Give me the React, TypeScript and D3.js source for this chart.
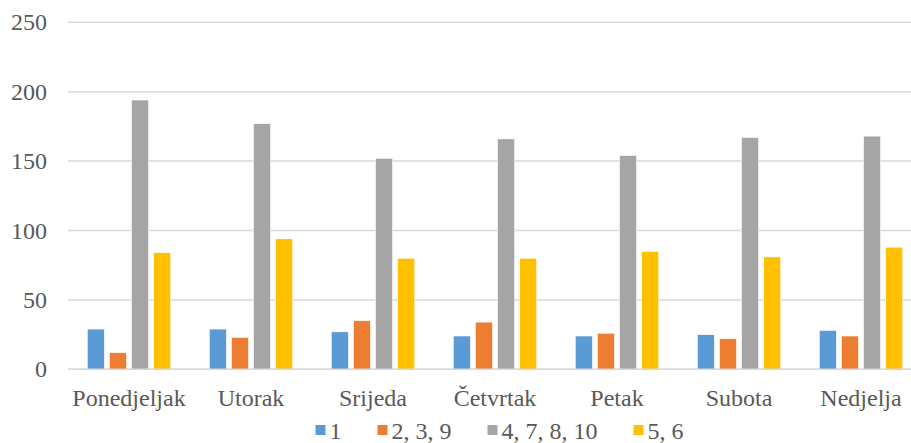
import React, { useEffect, useRef } from 'react';
import * as d3 from 'd3';

const days = ['Ponedjeljak', 'Utorak', 'Srijeda', 'Četvrtak', 'Petak', 'Subota', 'Nedjelja'];
const seriesNames = ['1', '2, 3, 9', '4, 7, 8, 10', '5, 6'];
const series1 = [29, 29, 27, 24, 24, 25, 28];
const series239 = [12, 23, 35, 34, 26, 22, 24];
const series47810 = [194, 177, 152, 166, 154, 167, 168];
const series56 = [84, 94, 80, 80, 85, 81, 88];
const yTicks = [0, 50, 100, 150, 200, 250];

const colors = ['#5B9BD5', '#ED7D31', '#A5A5A5', '#FFC000'];

const App: React.FC = () => {
  const chartRef = useRef<SVGSVGElement | null>(null);

  useEffect(() => {
    if (!chartRef.current) return;
    const width = 911;
    const height = 443;
    const font = '"Times New Roman", "Liberation Serif", "DejaVu Serif", serif';
    const textColor = '#595959';

    const svg = d3.select(chartRef.current)
      .attr('width', width)
      .attr('height', height);
    svg.selectAll('*').remove();

    const allSeries = [series1, series239, series47810, series56];

    // scales
    const x0 = d3.scaleBand<string>().domain(days).range([68, 922]).padding(0);
    const bw = x0.bandwidth();
    const x1 = d3.scaleBand<string>()
      .domain(seriesNames)
      .range([bw * 0.158, bw * 0.842])
      .paddingInner(0.226)
      .paddingOuter(0);
    const y = d3.scaleLinear().domain([0, 250]).range([369.3, 22.3]);

    // gridlines
    svg.append('g')
      .selectAll('line')
      .data(yTicks)
      .enter().append('line')
      .attr('x1', 68)
      .attr('x2', 922)
      .attr('y1', (d) => y(d))
      .attr('y2', (d) => y(d))
      .attr('stroke', '#D9D9D9')
      .attr('stroke-width', 1.5);

    // y labels
    svg.append('g')
      .selectAll('text')
      .data(yTicks)
      .enter().append('text')
      .attr('x', 47)
      .attr('y', (d) => y(d))
      .attr('dy', '0.34em')
      .attr('text-anchor', 'end')
      .style('font-family', font)
      .style('font-size', '24px')
      .style('fill', textColor)
      .text((d) => String(d));

    // bars
    const groups = svg.append('g')
      .selectAll('g')
      .data(days)
      .enter().append('g')
      .attr('transform', (d) => `translate(${x0(d)},0)`);

    groups.selectAll('rect')
      .data((_, i) => allSeries.map((s, k) => ({ name: seriesNames[k], value: s[i], k })))
      .enter().append('rect')
      .attr('x', (d) => x1(d.name) || 0)
      .attr('width', x1.bandwidth())
      .attr('y', (d) => y(d.value))
      .attr('height', (d) => y(0) - y(d.value))
      .attr('fill', (d) => colors[d.k])
      .attr('stroke', '#fff')
      .attr('stroke-width', 0.6);

    // baseline over bars
    svg.append('line')
      .attr('x1', 68)
      .attr('x2', 922)
      .attr('y1', y(0))
      .attr('y2', y(0))
      .attr('stroke', '#D9D9D9')
      .attr('stroke-width', 1.5);

    // category labels
    svg.append('g')
      .selectAll('text')
      .data(days)
      .enter().append('text')
      .attr('x', (d) => (x0(d) || 0) + bw / 2)
      .attr('y', 406)
      .attr('text-anchor', 'middle')
      .style('font-family', font)
      .style('font-size', '24px')
      .style('fill', textColor)
      .text((d) => d);

    // legend
    const legend = svg.append('g');
    let cx = 0;
    seriesNames.forEach((name, k) => {
      const item = legend.append('g').attr('transform', `translate(${cx},0)`);
      item.append('rect')
        .attr('x', 0)
        .attr('y', 425)
        .attr('width', 10)
        .attr('height', 10)
        .attr('fill', colors[k]);
      const t = item.append('text')
        .attr('x', 14)
        .attr('y', 438.5)
        .style('font-family', font)
        .style('font-size', '24px')
        .style('fill', textColor)
        .text(name);
      const tw = (t.node() as SVGTextElement).getComputedTextLength();
      cx += 14 + tw + 36;
    });
    const totalW = cx - 36;
    legend.attr('transform', `translate(${313 + (373 - totalW) / 2},0)`);
  }, []);

  return (
    <svg
      ref={chartRef}
      style={{ position: 'absolute', left: 0, top: 0, display: 'block', background: '#fff' }}
    ></svg>
  );
};

export default App;
